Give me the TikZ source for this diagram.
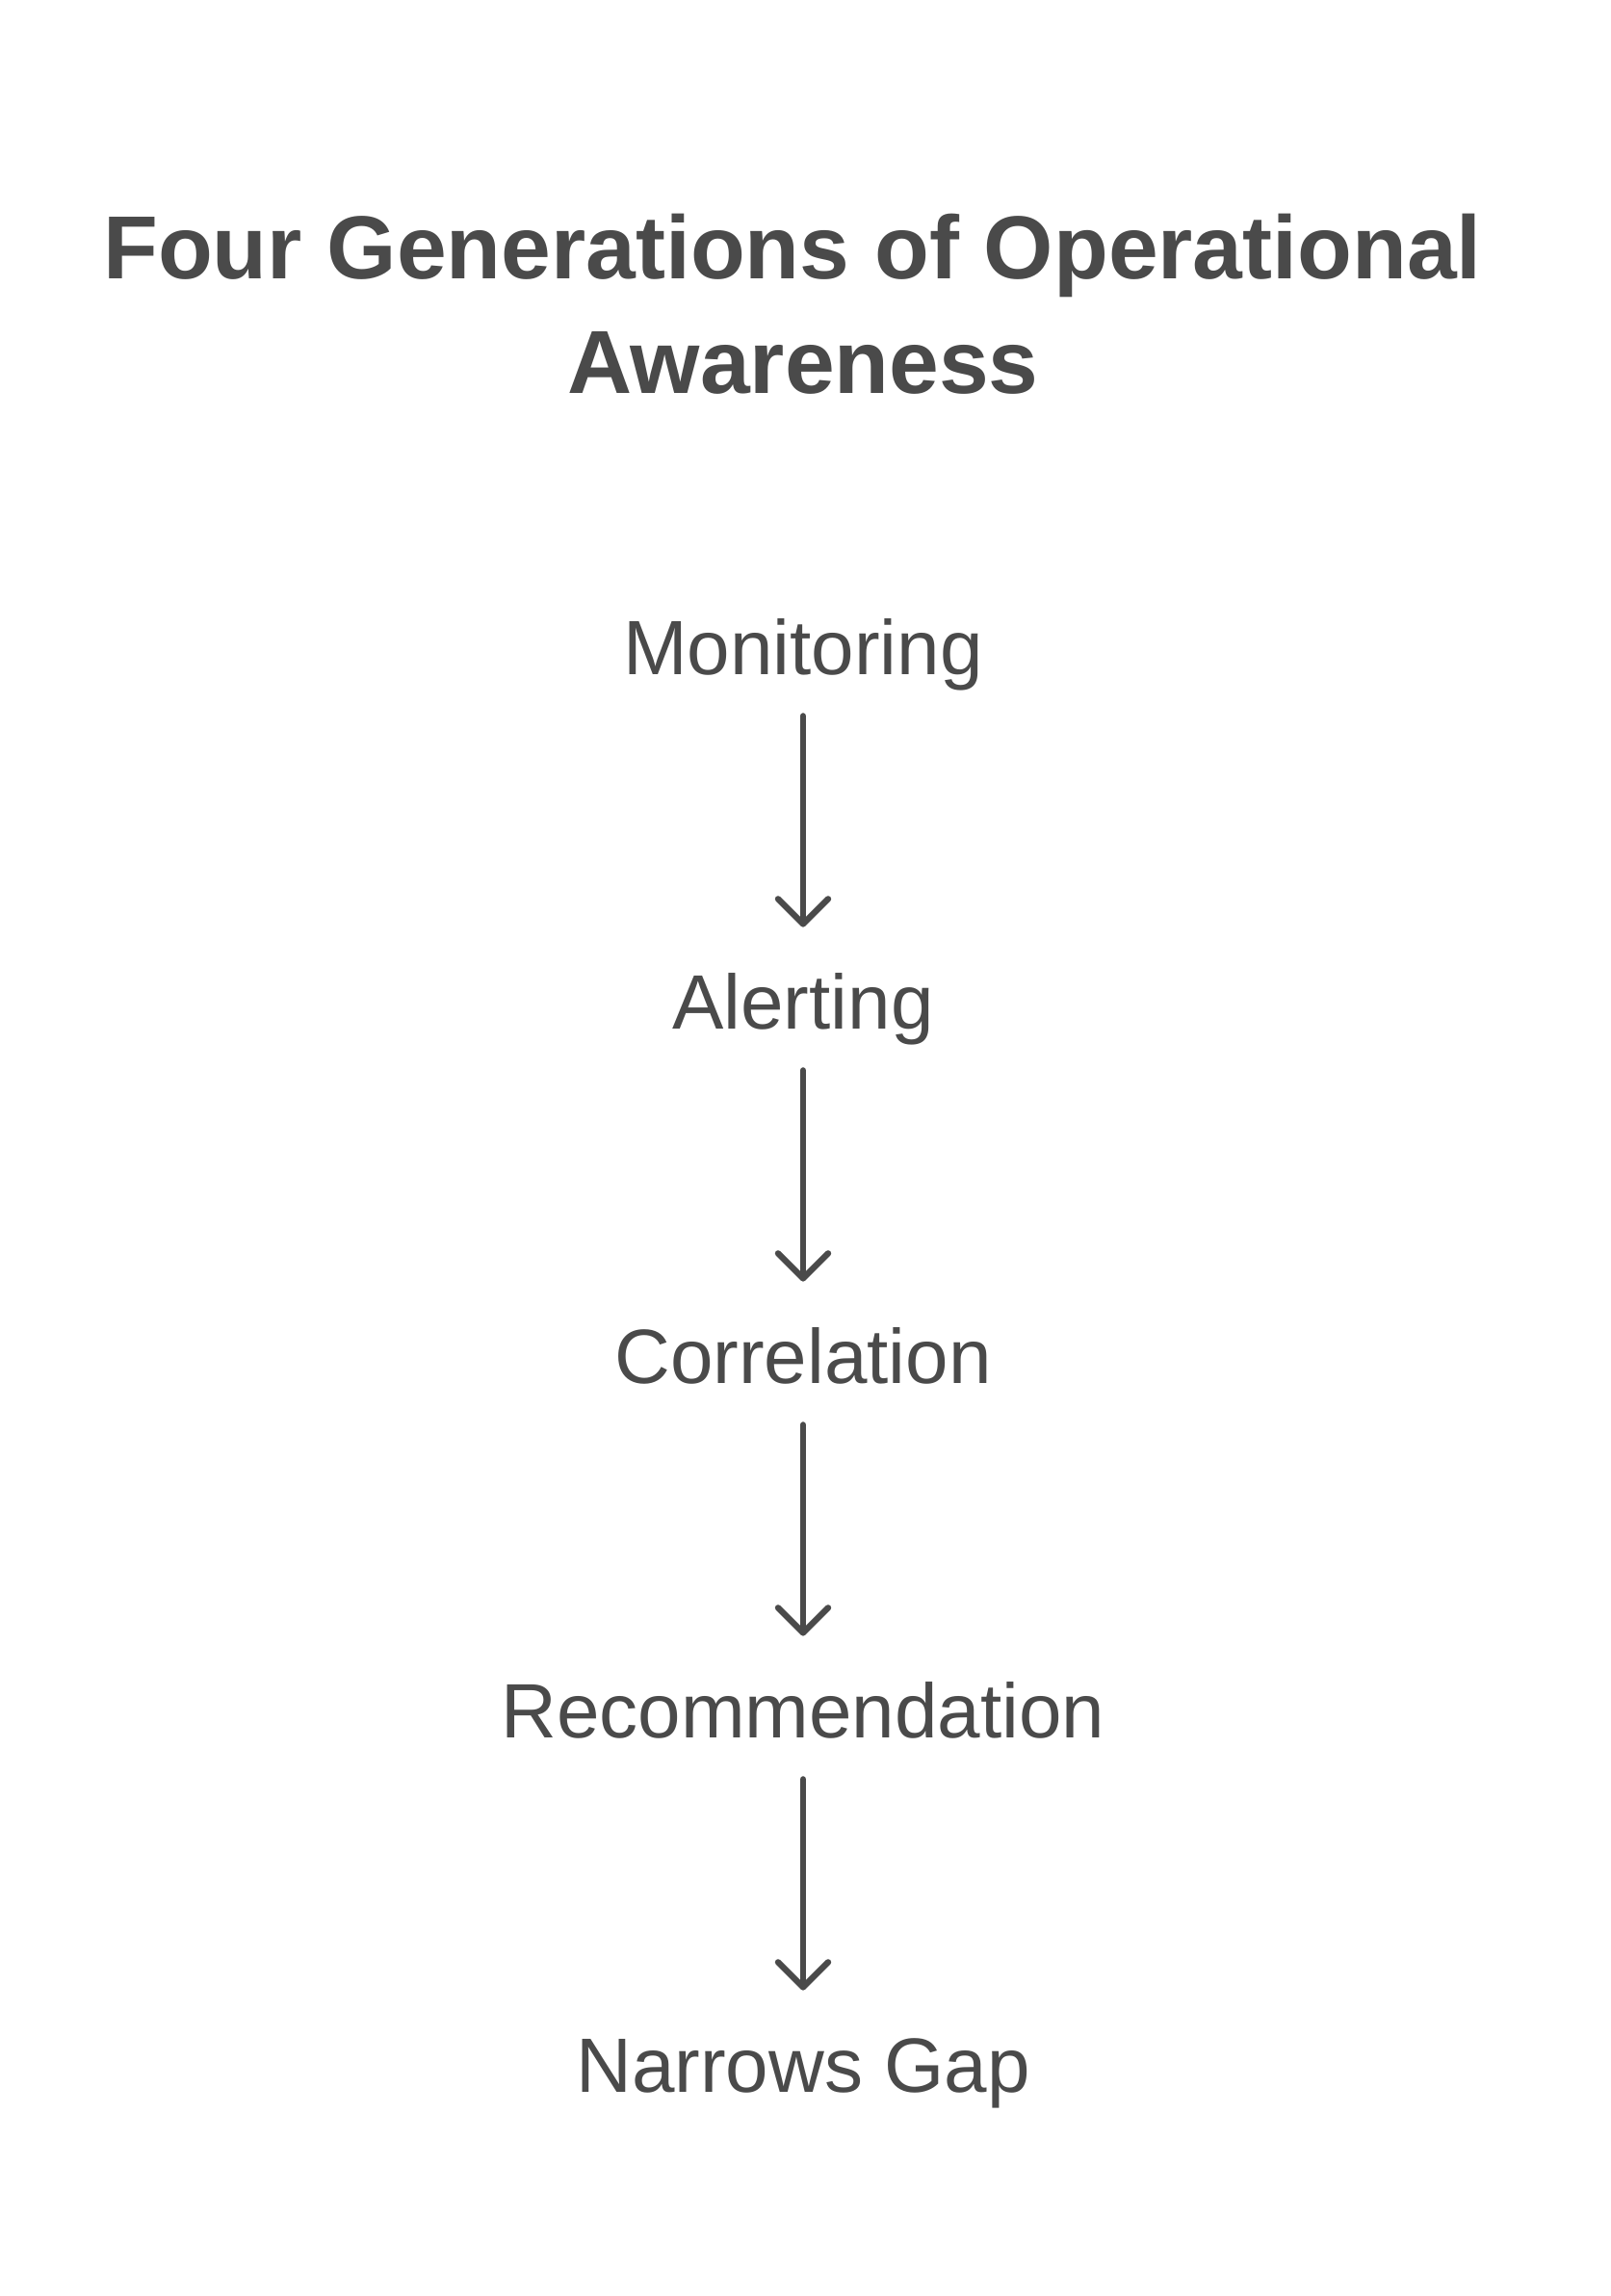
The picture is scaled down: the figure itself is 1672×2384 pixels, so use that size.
\documentclass[tikz,border=0pt]{standalone}
\usepackage{fontspec}
\setmainfont{Liberation Sans}
\usetikzlibrary{arrows.meta}
\definecolor{ink}{HTML}{4A4A4A}
\tikzset{
  titletext/.style={text=ink, inner sep=0pt, anchor=base, font=\bfseries\fontsize{46.5}{56}\selectfont},
  stage/.style={text=ink, inner sep=0pt, anchor=base, text height=28.5pt, text depth=0pt, font=\fontsize{40}{48}\selectfont},
  flow/.style={draw=ink, line width=3.2pt, line cap=round, shorten <=21.5pt, shorten >=24pt,
    -{Straight Barb[round, length=13pt, width=26pt]}}
}
\begin{document}
\begin{tikzpicture}[x=0.5pt,y=-0.5pt]
\useasboundingbox (0,0) rectangle (1672,2384);
\node[titletext] (t1) at (823,289) {Four Generations of Operational};
\node[titletext] (t2) at (834,408) {Awareness};
\node[stage] (mon) at (834,700) {Monitoring};
\node[stage] (ale) at (834,1068) {Alerting};
\node[stage] (cor) at (834,1436) {Correlation};
\node[stage] (rec) at (834,1804) {Recommendation};
\node[stage] (nar) at (834,2172) {Narrows Gap};
\draw[flow] (mon.south) -- (ale.north);
\draw[flow] (ale.south) -- (cor.north);
\draw[flow] (cor.south) -- (rec.north);
\draw[flow] (rec.south) -- (nar.north);
\end{tikzpicture}
\end{document}
